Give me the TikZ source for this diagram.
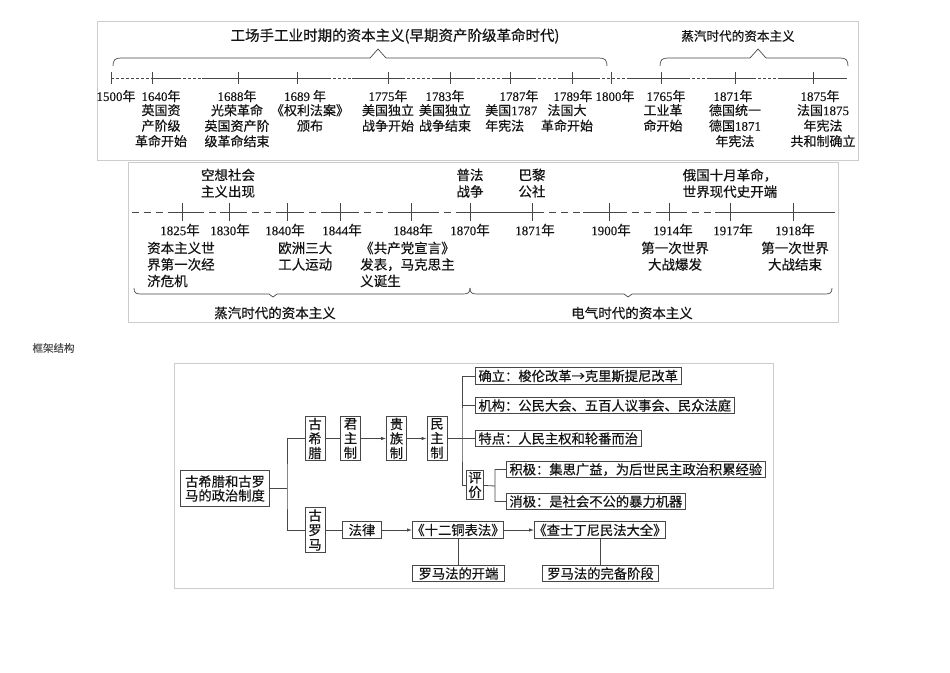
\documentclass[tikz,border=0pt]{standalone}
\usepackage{fontspec}
\setmainfont{Noto Sans CJK SC}[FakeBold=0.5]
\newfontfamily\latin{Liberation Serif}[FakeBold=0.3]
\usepackage{tikz}
\usetikzlibrary{arrows.meta,calc,positioning}
\colorlet{ink}{black!92}
\colorlet{lineclr}{black!72}
\colorlet{frameclr}{black!20}
\newcommand{\yr}[1]{{\latin\fontsize{13}{15}\selectfont #1}年}
\newcommand{\bk}[1]{\kern-4pt《#1》\kern-4pt}
\newcommand{\upbrace}[4]{%
  \draw[era] (#1,#4) .. controls (#1,{#4-6}) and ({#1+2},{#4-8}) .. ({#1+8},{#4-8}) -- ({#2-8},{#4-8}) -- (#2,{#4-17})
    -- ({#2+8},{#4-8}) -- ({#3-8},{#4-8}) .. controls ({#3-2},{#4-8}) and (#3,{#4-6}) .. (#3,#4);}
\newcommand{\downbrace}[4]{%
  \draw[era] (#1,#4) .. controls (#1,{#4+5}) and ({#1+2},{#4+6}) .. ({#1+7},{#4+6}) -- ({#2-4},{#4+6}) -- (#2,{#4+9})
    -- ({#2+4},{#4+6}) -- ({#3-7},{#4+6}) .. controls ({#3-2},{#4+6}) and (#3,{#4+5}) .. (#3,#4);}
\tikzset{
  lbl/.style={font=\fontsize{13}{15.5}\selectfont,text=ink,inner sep=0pt,align=center},
  lblb/.style={lbl,font=\fontsize{13.5}{16.5}\selectfont},
  era/.style={lineclr,line width=0.7pt},
  tline/.style={lineclr,line width=0.8pt},
  dashA/.style={tline,dash pattern=on 3pt off 2pt},
  dashB/.style={tline,dash pattern=on 7pt off 5pt},
  box/.style={draw=lineclr,line width=0.9pt,fill=white,text=ink,font=\fontsize{13.3}{14}\selectfont,inner xsep=3pt,inner ysep=2pt,align=center},
  vbox/.style={box,inner xsep=3.3pt,inner ysep=1.5pt,font=\fontsize{13.3}{14.5}\selectfont},
  conn/.style={lineclr,line width=0.8pt},
}
\begin{document}
\begin{tikzpicture}[x=1pt,y=-1pt,>={Latex[length=5pt,width=3.5pt]}]
\useasboundingbox (0,0) rectangle (950,672);
\draw[frameclr,line width=0.8pt] (97,21) rectangle (858,160);
\draw[frameclr,line width=0.8pt] (128,162) rectangle (838,322);
\draw[frameclr,line width=0.8pt] (174,363) rectangle (773,588);

% early capitalism timeline
\node[lbl,font=\fontsize{14.5}{16}\selectfont] (titleA) at (395,36) {工场手工业时期的资本主义(早期资产阶级革命时代)};
\node[lbl,font=\fontsize{12.6}{15}\selectfont] (titleB) at (738,36) {蒸汽时代的资本主义};
\upbrace{113}{378}{607}{66}
\upbrace{660}{758}{848}{66}
\foreach \a/\b in {152/178,202/328,352/402,432/472,503/533,558/597,627/687,710/753,780/847} \draw[tline] (\a,78) -- (\b,78);
\foreach \a/\b in {111/152,178/202,328/352,402/432,472/503,533/558,597/627,687/710,753/780} \draw[dashA] (\a,78) -- (\b,78);
\foreach \t in {111,152,238,297,388,450,510,572,611,661,735,813} \draw[tline] (\t,72) -- (\t,84);
\foreach \x/\n in {116/1500,161/1640,237/1688,388/1775,445/1783,519/1787,573/1789,615/1800,666/1765,733/1871,820/1875}
  \node[lbl] (ya\n) at (\x,96) {\yr{\n}};
\node[lbl] (ya1689) at (305,96) {{\latin\fontsize{13}{15}\selectfont 1689} 年};
\node[lbl,anchor=north] (ta1640) at (161,104) {英国资\\产阶级\\革命开始};
\node[lbl,anchor=north] (ta1688) at (237,104) {光荣革命\\英国资产阶\\级革命结束};
\node[lbl,anchor=north] (ta1689) at (310,104) {《权利法案》\\颁布};
\node[lbl,anchor=north] (ta1775) at (388,104) {美国独立\\战争开始};
\node[lbl,anchor=north] (ta1783) at (445,104) {美国独立\\战争结束};
\node[lbl,anchor=north west,align=left] (ta1787) at (485,104) {美国{\latin 1787}\\年宪法};
\node[lbl,anchor=north] (ta1789) at (567,104) {法国大\\革命开始};
\node[lbl,anchor=north] (ta1765) at (663,104) {工业革\\命开始};
\node[lbl,anchor=north] (ta1871) at (735,104) {德国统一\\德国{\latin 1871}\\年宪法};
\node[lbl,anchor=north] (ta1875) at (823,104) {法国{\latin 1875}\\年宪法\\共和制确立};

% steam and electric age timeline
\foreach \a/\b in {168/197,220/240,277/297,328/352,392/432,460/537,583/620,657/680,715/835} \draw[tline] (\a,212) -- (\b,212);
\foreach \a/\b in {132/168,197/220,240/277,297/328,352/392,432/460,537/583,620/657,680/715} \draw[dashB] (\a,212) -- (\b,212);
\foreach \t in {182,229,287,340,411,470,532,609,669,730,793} \draw[tline] (\t,203) -- (\t,221);
\foreach \x/\n in {180/1825,230/1830,285/1840,342/1844,413/1848,470/1870,535/1871,611/1900,673/1914,733/1917,795/1918}
  \node[lblb] (yb\n) at (\x,230) {\yr{\n}};
\node[lblb,anchor=north] (ub1830) at (228,168.5) {空想社会\\主义出现};
\node[lblb,anchor=north] (ub1870) at (470,168.5) {普法\\战争};
\node[lblb,anchor=north] (ub1871) at (532,168.5) {巴黎\\公社};
\node[lblb,anchor=north] (ub1917) at (730,168.5) {俄国十月革命，\\世界现代史开端};
\node[lblb,anchor=north west,align=left] (tb1825) at (147,241.5) {资本主义世\\界第一次经\\济危机};
\node[lblb,anchor=north west,align=left] (tb1840) at (278,241.5) {欧洲三大\\工人运动};
\node[lblb,anchor=north west,align=left] (tb1848) at (360,241.5) {《共产党宣言》\\发表，马克思主\\义诞生};
\node[lblb,anchor=north] (tb1914) at (675,241.5) {第一次世界\\大战爆发};
\node[lblb,anchor=north] (tb1918) at (795,241.5) {第一次世界\\大战结束};
\downbrace{134}{273}{470}{288}
\downbrace{470}{628}{832}{288}
\node[lblb] (eraSteam) at (275,313) {蒸汽时代的资本主义};
\node[lblb] (eraElec) at (632,313) {电气时代的资本主义};

% framework
\node[font=\fontsize{10.5}{12}\selectfont,text=black!70,inner sep=0pt] (outline) at (53.5,348) {框架结构};
\node[box,inner sep=5pt] (sys) at (225,488.5) {古希腊和古罗\\马的政治制度};
\node[vbox] (greece) at (315,438.5) {古\\希\\腊};
\node[vbox] (monarchy) at (350.5,438.5) {君\\主\\制};
\node[vbox] (aristo) at (396.5,438.5) {贵\\族\\制};
\node[vbox] (demo) at (437,438.5) {民\\主\\制};
\node[vbox] (rome) at (315,530) {古\\罗\\马};
\node[box,anchor=west] (found) at (475,376) {确立：梭伦改革→克里斯提尼改革};
\node[box,anchor=west] (organ) at (475,405.5) {机构：公民大会、五百人议事会、民众法庭};
\node[box,anchor=west] (feature) at (475,438.5) {特点：人民主权和轮番而治};
\node[vbox,inner xsep=1.5pt] (assess) at (475,485) {评\\价};
\node[box,anchor=west] (pos) at (506,469.5) {积极：集思广益，为后世民主政治积累经验};
\node[box,anchor=west] (neg) at (506,501.5) {消极：是社会不公的暴力机器};
\node[box,inner xsep=6pt] (law) at (362,530) {法律};
\node[box,anchor=west] (twelve) at (412,530) {\bk{十二铜表法}};
\node[box,anchor=west] (justinian) at (534,530) {\bk{查士丁尼民法大全}};
\node[box,inner xsep=6.5pt] (begin) at (458.5,573.5) {罗马法的开端};
\node[box,inner xsep=4.5pt] (complete) at (600.5,573.5) {罗马法的完备阶段};
\coordinate (sysfork) at (287,488.5);
\coordinate (demofork) at (462,438.5);
\coordinate (assfork) at (495,486);
\draw[conn] (sys.east) -- (sysfork) (greece.west) -| (sysfork) |- (rome.west);
\draw[conn] (greece) -- (monarchy);
\draw[conn,->] (monarchy) -- (aristo);
\draw[conn,->] (aristo) -- (demo);
\draw[conn] (demo) -- (demofork) (found.west) -| (demofork) |- (assess.west);
\draw[conn] (organ.west) -- (organ.west -| demofork) (feature.west) -- (demofork);
\draw[conn] (assess) -- (assfork) (pos.west) -| (assfork) |- (neg.west);
\draw[conn] (rome) -- (law);
\draw[conn,->] (law) -- (twelve);
\draw[conn,->] (twelve) -- (justinian);
\draw[conn] (twelve.south) -- (twelve.south |- begin.north);
\draw[conn] (justinian.south) -- (justinian.south |- complete.north);
\end{tikzpicture}
\end{document}
